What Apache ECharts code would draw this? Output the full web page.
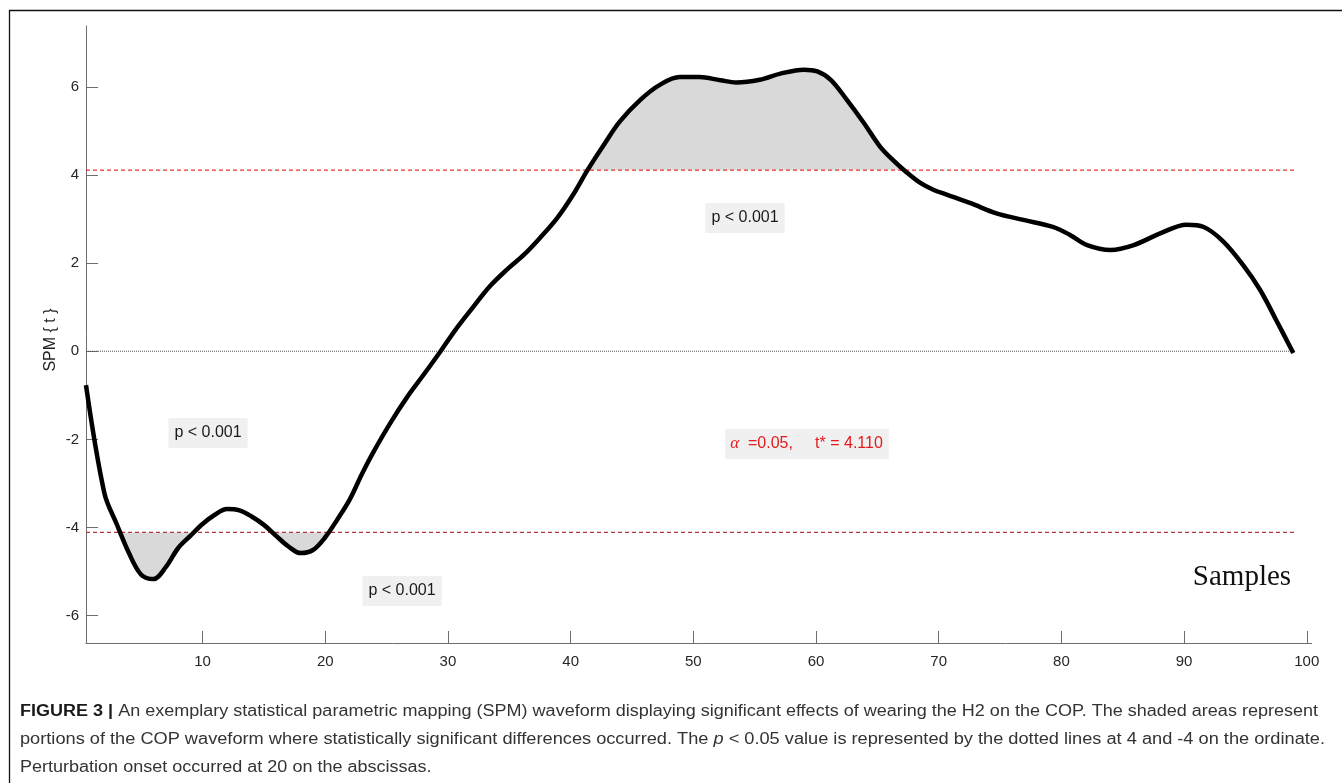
<!DOCTYPE html>
<html>
<head>
<meta charset="utf-8">
<title>SPM waveform</title>
<script src="https://cdn.jsdelivr.net/npm/echarts@6/dist/echarts.min.js"></script>
<style>
  html, body { margin: 0; padding: 0; background: #ffffff; }
  #chart { width: 1342px; height: 783px; }
</style>
</head>
<body>
<div id="chart"></div>
<script>
// SPM{t} trajectory: sample position and t statistic
const xs = [0.5, 2, 3, 4, 5, 6, 7, 8, 9, 10, 11, 12, 13, 14, 15, 16, 17, 18, 19, 20,
  21, 22, 23, 23.9, 25.3, 26.7, 28.0, 29.4, 30.7, 32.1, 33.4, 34.8, 36.2, 37.5, 38.9,
  40.2, 41.4, 42.7, 44.0, 45.7, 47.3, 48.9, 50.5, 52.2, 53.5, 55.4, 57.1, 59.0, 60.1,
  61.2, 62.5, 63.9, 65.2, 66.3, 67.3, 68.5, 69.6, 70.7, 72.6, 74.7, 76.9, 79.3, 80.7,
  82.1, 84.0, 85.9, 88.1, 90.2, 91.6, 93.2, 94.8, 96.2, 97.5, 98.9];
const ys = [-0.77, -3.22, -3.92, -4.58, -5.07, -5.17, -4.90, -4.47, -4.19, -3.92, -3.71,
  -3.58, -3.61, -3.75, -3.94, -4.19, -4.43, -4.58, -4.51, -4.22, -3.81, -3.36, -2.78,
  -2.30, -1.63, -1.03, -0.54, 0.0, 0.52, 1.02, 1.47, 1.85, 2.19, 2.57, 3.02, 3.55, 4.12,
  4.68, 5.21, 5.71, 6.05, 6.22, 6.22, 6.15, 6.10, 6.16, 6.30, 6.39, 6.35, 6.16, 5.71,
  5.18, 4.65, 4.33, 4.08, 3.82, 3.66, 3.55, 3.36, 3.13, 2.98, 2.82, 2.64, 2.41, 2.30,
  2.41, 2.68, 2.87, 2.82, 2.49, 1.96, 1.39, 0.71, -0.04];

// Critical threshold and the span of the reference lines
const tCrit = 4.11;
const refSpan = [0.5, 99];

// Axis ranges and tick labels
const xRange = [0.5, 100.4];
const yRange = [-6.62, 7.38];
const xTicks = [10, 20, 30, 40, 50, 60, 70, 80, 90, 100];
const yTicks = [-6, -4, -2, 0, 2, 4, 6];

// Annotation texts
const pText = 'p < 0.001';
const alphaText = '=0.05,     t* = 4.110';
const xName = 'Samples';
const yName = 'SPM { t }';
const captionLines = [
  [['b', 'FIGURE 3 | '], ['n', 'An exemplary statistical parametric mapping (SPM) waveform displaying significant effects of wearing the H2 on the COP. The shaded areas represent']],
  [['n', 'portions of the COP waveform where statistically significant differences occurred. The '], ['i', 'p'], ['n', ' < 0.05 value is represented by the dotted lines at 4 and -4 on the ordinate.']],
  [['n', 'Perturbation onset occurred at 20 on the abscissas.']]
];

const SANS = '"Liberation Sans", Arial, Helvetica, sans-serif';
const SERIF = '"Liberation Serif", "Times New Roman", serif';

// Supra-threshold clusters: polygons between the curve and +/- threshold
function clusters(thr, sign) {
  const out = [];
  let cur = null;
  const cross = (i) => {
    const t = (thr - ys[i - 1]) / (ys[i] - ys[i - 1]);
    return [xs[i - 1] + t * (xs[i] - xs[i - 1]), thr];
  };
  for (let i = 0; i < xs.length; i++) {
    const inside = sign * (ys[i] - thr) > 0;
    if (inside) {
      if (!cur) cur = i > 0 ? [cross(i)] : [[xs[i], thr]];
      cur.push([xs[i], ys[i]]);
    } else if (cur) {
      cur.push(cross(i));
      out.push(cur);
      cur = null;
    }
  }
  if (cur) { cur.push([xs[xs.length - 1], thr]); out.push(cur); }
  return out;
}

// Caption measurement (condensed face approximated by horizontal scaling)
const mctx = document.createElement('canvas').getContext('2d');
const segFont = { b: 'bold 16px ' + SANS, n: '16px ' + SANS, i: 'italic 16px ' + SANS };
function lineWidth(line) {
  return line.reduce((w, s) => { mctx.font = segFont[s[0]]; return w + mctx.measureText(s[1]).width; }, 0);
}
function richText(line) {
  return line.map(s => s[0] === 'n' ? s[1] : '{' + s[0] + '|' + s[1] + '}').join('');
}
const captionTargets = [1298, 1305];
const sc0 = captionTargets[0] / lineWidth(captionLines[0]);
const sc1 = captionTargets[1] / lineWidth(captionLines[1]);
const captionScale = [sc0, sc1, sc0];
const captionY = [712, 740, 768];

function pLabel(cx, cy) {
  return {
    type: 'text', x: cx, y: cy, z: 20,
    style: {
      text: pText, fontSize: 16, fontFamily: SANS, fill: '#1a1a1a',
      align: 'center', verticalAlign: 'middle', lineHeight: 18,
      backgroundColor: '#f0f0f0', padding: [6, 6, 6, 6]
    }
  };
}

const chart = echarts.init(document.getElementById('chart'), null, { renderer: 'canvas' });

const graphics = [
  {
    type: 'rect', z: 0,
    shape: { x: 9.5, y: 10.5, width: 1400, height: 900 },
    style: { fill: 'none', stroke: '#111', lineWidth: 1.3 }
  },
  pLabel(208, 433),
  pLabel(402, 591),
  pLabel(745, 218),
  {
    type: 'text', x: 807, y: 444, z: 20,
    style: {
      text: '{a|α}  ' + alphaText,
      fontSize: 16, fontFamily: SANS, fill: '#e41a1c',
      align: 'center', verticalAlign: 'middle', lineHeight: 18,
      backgroundColor: '#f0f0f0', padding: [6, 6, 6, 5],
      rich: { a: { fontFamily: SERIF, fontStyle: 'italic', fontSize: 17, fill: '#e41a1c' } }
    }
  },
  {
    type: 'text', x: 1242, y: 577, z: 20,
    style: { text: xName, fontSize: 29, fontFamily: SERIF, fill: '#111', align: 'center', verticalAlign: 'middle' }
  },
  {
    type: 'text', x: 51, y: 340, rotation: Math.PI / 2, z: 20,
    style: { text: yName, fontSize: 16, fontFamily: SANS, fill: '#222', align: 'center', verticalAlign: 'middle' }
  }
];

captionLines.forEach((line, k) => {
  graphics.push({
    type: 'text', x: 20, y: captionY[k], scaleX: captionScale[k], z: 20,
    style: {
      text: richText(line), fontSize: 16, fontFamily: SANS, fill: '#333',
      align: 'left', verticalAlign: 'middle',
      rich: {
        b: { fontSize: 16, fontFamily: SANS, fontWeight: 'bold', fill: '#1a1a1a' },
        i: { fontSize: 16, fontFamily: SANS, fontStyle: 'italic', fill: '#333' }
      }
    }
  });
});

const axisCommon = {
  axisLine: { onZero: false, lineStyle: { color: '#6e6e6e', width: 1 } },
  axisTick: { inside: true, length: 12, lineStyle: { color: '#6e6e6e', width: 1 } },
  splitLine: { show: false }
};

chart.setOption({
  animation: false,
  backgroundColor: '#ffffff',
  grid: { left: 86, right: 30.3, top: 26, bottom: 140 },
  xAxis: Object.assign({
    type: 'value', min: xRange[0], max: xRange[1],
    axisLabel: { customValues: xTicks, fontSize: 15, fontFamily: SANS, color: '#262626', margin: 11 }
  }, axisCommon, { axisTick: Object.assign({ customValues: xTicks }, axisCommon.axisTick) }),
  yAxis: Object.assign({
    type: 'value', min: yRange[0], max: yRange[1],
    axisLabel: { customValues: yTicks, fontSize: 15, fontFamily: SANS, color: '#262626', margin: 7 }
  }, axisCommon, { axisTick: Object.assign({ customValues: yTicks }, axisCommon.axisTick) }),
  graphic: graphics,
  series: [
    {
      type: 'custom', z: 1, silent: true,
      data: [[xs[0], ys[0]]],
      renderItem: function (params, api) {
        const polys = clusters(tCrit, 1).concat(clusters(-tCrit, -1));
        return {
          type: 'group',
          children: polys.map(p => ({
            type: 'polygon',
            shape: { points: p.map(pt => api.coord(pt)) },
            style: { fill: '#d9d9d9' }
          }))
        };
      }
    },
    {
      type: 'line', z: 2, symbol: 'none', silent: true,
      data: [[refSpan[0], 0], [refSpan[1], 0]],
      lineStyle: { color: '#555', width: 1, type: [1, 1] }
    },
    {
      type: 'line', z: 2, symbol: 'none', silent: true,
      data: [[refSpan[0], tCrit], [refSpan[1], tCrit]],
      lineStyle: { color: '#e60000', width: 1, type: [4, 3] }
    },
    {
      type: 'line', z: 2, symbol: 'none', silent: true,
      data: [[refSpan[0], -tCrit], [refSpan[1], -tCrit]],
      lineStyle: { color: '#b03a3a', width: 1.2, type: [4, 3] }
    },
    {
      type: 'line', z: 3, symbol: 'none', silent: true, smooth: 0.35,
      data: xs.map((x, i) => [x, ys[i]]),
      lineStyle: { color: '#000', width: 4.5, join: 'round' }
    }
  ]
});
</script>
</body>
</html>
